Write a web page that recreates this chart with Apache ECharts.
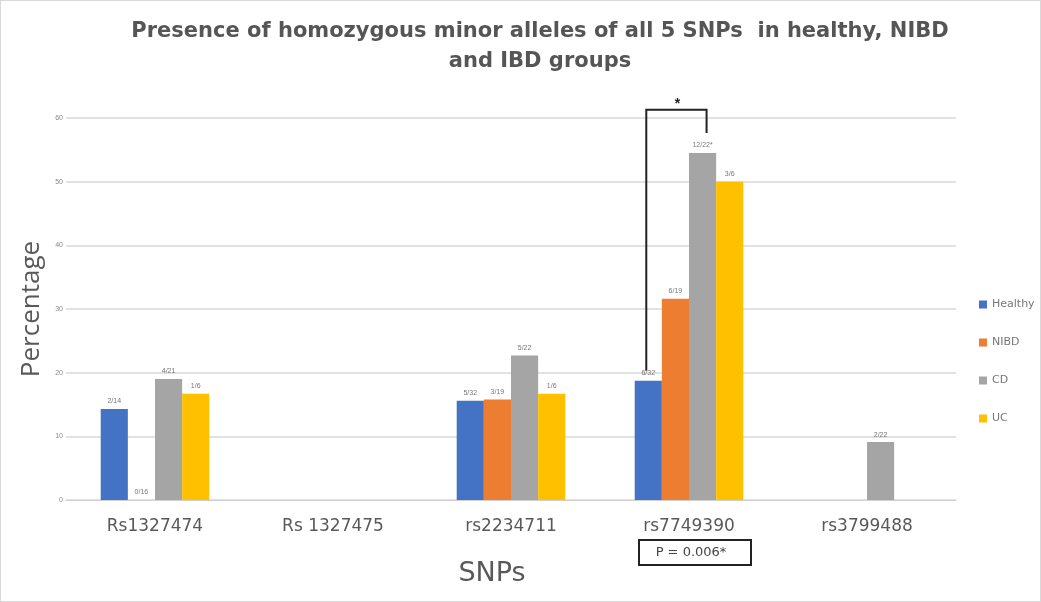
<!DOCTYPE html>
<html>
<head>
<meta charset="utf-8">
<script src="https://cdn.jsdelivr.net/npm/echarts@6/dist/echarts.min.js"></script>
<style>
  html, body { margin: 0; padding: 0; background: #fff; }
  #main { width: 1041px; height: 602px; box-sizing: border-box; border: 1px solid #d9d9d9; }
</style>
</head>
<body>
<div id="main"></div>
<script>
var categories = ['Rs1327474', 'Rs 1327475', 'rs2234711', 'rs7749390', 'rs3799488'];
var yTicks = [0, 10, 20, 30, 40, 50, 60];

var healthy = [14.3, null, 15.6, 18.75, null];
var nibd = [0, null, 15.8, 31.6, null];
var cd = [19.0, null, 22.7, 54.5, 9.1];
var uc = [16.7, null, 16.7, 50, null];

var healthyLabels = ['2/14', '', '5/32', '6/32', ''];
var nibdLabels = ['0/16', '', '3/19', '6/19', ''];
var cdLabels = ['4/21', '', '5/22', '12/22*', '2/22'];
var ucLabels = ['1/6', '', '1/6', '3/6', ''];

var myChart = echarts.init(document.getElementById('main'));

function makeSeries(name, color, values, labels) {
    return {
        name: name,
        type: 'bar',
        color: color,
        barGap: 0,
        barCategoryGap: '39%',
        data: values,
        label: {
            show: true,
            position: 'top',
            distance: 4,
            fontSize: 7,
            color: '#777',
            formatter: function (p) { return labels[p.dataIndex]; }
        }
    };
}

var option = {
    animation: false,
    title: {
        text: 'Presence of homozygous minor alleles of all 5 SNPs  in healthy, NIBD\nand IBD groups',
        left: 534,
        top: 11,
        textAlign: 'center',
        textStyle: {
            fontFamily: 'DejaVu Sans',
            fontSize: 21,
            fontWeight: 'bold',
            color: '#555',
            lineHeight: 30
        }
    },
    legend: {
        orient: 'vertical',
        left: 973,
        top: 293,
        itemWidth: 8,
        itemHeight: 8,
        itemGap: 27,
        icon: 'rect',
        textStyle: { fontSize: 11, color: '#777', fontFamily: 'DejaVu Sans' },
        data: ['Healthy', 'NIBD', 'CD', 'UC']
    },
    grid: { left: 65, right: 84, top: 117, bottom: 101 },
    xAxis: {
        type: 'category',
        data: categories,
        name: 'SNPs',
        nameLocation: 'middle',
        nameGap: 60,
        nameTextStyle: { fontSize: 27, color: '#595959', fontFamily: 'DejaVu Sans', padding: [0, 38, 0, 0] },
        axisLine: { lineStyle: { color: '#d0d0d0' } },
        axisTick: { show: false },
        axisLabel: { fontSize: 17, color: '#595959', margin: 18, fontFamily: 'DejaVu Sans' }
    },
    yAxis: {
        type: 'value',
        min: yTicks[0],
        max: yTicks[yTicks.length - 1],
        interval: 10,
        name: 'Percentage',
        nameLocation: 'middle',
        nameGap: 17,
        nameTextStyle: { fontSize: 26, color: '#595959', fontFamily: 'Open Sans' },
        axisLine: { show: false },
        axisTick: { show: false },
        splitLine: { lineStyle: { color: '#d9d9d9', width: 1.5 } },
        axisLabel: { fontSize: 7, color: '#888', margin: 3 }
    },
    series: [
        makeSeries('Healthy', '#4472C4', healthy, healthyLabels),
        makeSeries('NIBD', '#ED7D31', nibd, nibdLabels),
        makeSeries('CD', '#A5A5A5', cd, cdLabels),
        makeSeries('UC', '#FFC000', uc, ucLabels)
    ]
};

myChart.setOption(option);

// significance bracket between Healthy and CD of rs7749390, and P-value box
var model = myChart.getModel();
var hLay = model.getSeriesByIndex(0).getData().getItemLayout(3);
var cLay = model.getSeriesByIndex(2).getData().getItemLayout(3);
var hx = hLay.x + hLay.width / 2;
var cx = cLay.x + cLay.width / 2 + 4;
var hTop = hLay.y + hLay.height - 10;
var cTop = cLay.y + cLay.height - 20;
var topY = myChart.convertToPixel({ gridIndex: 0 }, [3, 61.3])[1];
var catX = myChart.convertToPixel({ gridIndex: 0 }, [3, 0]);

myChart.setOption({
    graphic: [
        {
            type: 'polyline',
            shape: { points: [[hx - 2, hTop], [hx - 2, topY], [cx, topY], [cx, cTop]] },
            style: { stroke: '#222', lineWidth: 2, fill: null }
        },
        {
            type: 'text',
            x: (hx + cx) / 2,
            y: topY - 13,
            style: { text: '*', fontSize: 14, fontWeight: 'bold', fill: '#222', align: 'center' }
        },
        {
            type: 'rect',
            shape: { x: catX[0] - 50, y: catX[1] + 40, width: 112, height: 25 },
            style: { stroke: '#222', lineWidth: 2, fill: '#fff' }
        },
        {
            type: 'text',
            x: catX[0] + 2,
            y: catX[1] + 46,
            style: { text: 'P = 0.006*', fontSize: 13, fill: '#444', align: 'center', fontFamily: 'DejaVu Sans' }
        }
    ]
});
</script>
</body>
</html>
